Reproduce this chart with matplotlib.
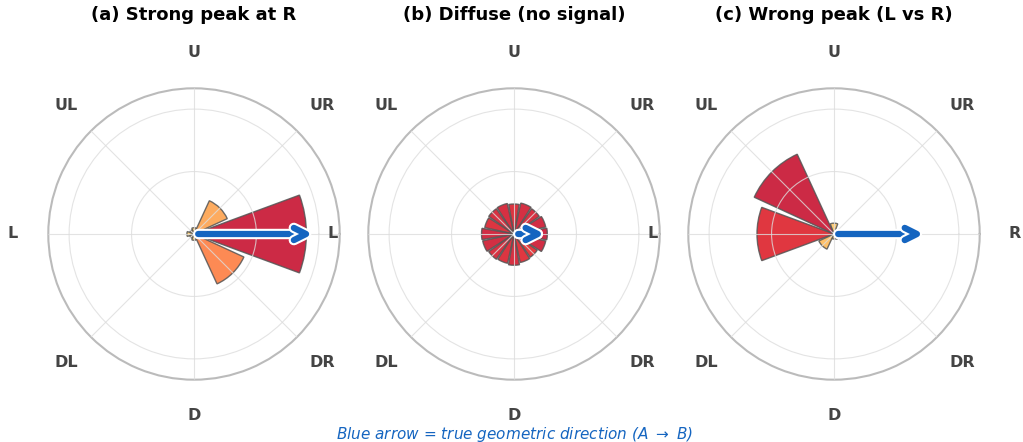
import numpy as np
import matplotlib
matplotlib.use('Agg')
import matplotlib.pyplot as plt
import matplotlib.patheffects as pe

# direction labels, counter-clockwise from right
dir_labels = ['R', 'UR', 'U', 'UL', 'L', 'DL', 'D', 'DR']
dir_angles = [0, 45, 90, 135, 180, 225, 270, 315]

titles = ['(a) Strong peak at R', '(b) Diffuse (no signal)', '(c) Wrong peak (L vs R)']

# panel a: 8 bins, peak at R
a_angles = [0, 45, 90, 135, 180, 225, 270, 315]
a_values = [0.270, 0.088, 0.015, 0.011, 0.017, 0.011, 0.015, 0.132]
# panel b: 16 bins, almost flat
b_angles = [0, 22.5, 45, 67.5, 90, 112.5, 135, 157.5, 180, 202.5, 225, 247.5, 270, 292.5, 315, 337.5]
b_values = [0.080, 0.078, 0.074, 0.076, 0.072, 0.075, 0.074, 0.072, 0.078, 0.077, 0.074, 0.072, 0.075, 0.070, 0.068, 0.078]
# panel c: 8 bins, peak on the left side
c_angles = [0, 45, 90, 135, 180, 225, 270, 315]
c_values = [0.010, 0.008, 0.026, 0.211, 0.185, 0.040, 0.012, 0.014]

arrow_len = [0.286, 0.074, 0.216]

panels = [(a_angles, a_values), (b_angles, b_values), (c_angles, c_values)]
centers = [194, 514, 834]

W, H = 1023, 442
fig = plt.figure(figsize=(W / 100, H / 100), dpi=100)
rad = 145.7
cmap = plt.cm.YlOrRd

for i, (ang, vals) in enumerate(panels):
    cx = centers[i] / W
    cy = 1 - 234 / H
    w = 2 * rad / W
    h = 2 * rad / H
    ax = fig.add_axes([cx - w / 2, cy - h / 2, w, h], projection='polar')
    ax.set_facecolor('white')
    ax.set_axisbelow(False)
    th = np.deg2rad(ang)
    width = 2 * np.pi / len(ang) * 0.9
    vals = np.array(vals)
    cols = cmap(0.25 + 0.6 * vals / vals.max())
    ax.bar(th, vals, width=width, color=cols, alpha=0.85,
           edgecolor='#555555', linewidth=1.0, zorder=1)
    ax.set_ylim(0, 0.35)
    ax.set_yticks([0.15, 0.30])
    ax.set_yticklabels([])
    ax.set_thetagrids(dir_angles, dir_labels, fontsize=11.5, fontweight='bold', color='#444444')
    ax.tick_params(axis='x', pad=15)
    ax.grid(color='#dddddd', linewidth=0.8, alpha=0.8)
    ax.spines['polar'].set_color('#bbbbbb')
    ax.spines['polar'].set_linewidth(1.5)
    ann = ax.annotate('', xy=(0, arrow_len[i]), xytext=(0, 0),
                      arrowprops=dict(arrowstyle='->', color='#1565c0', lw=4.5,
                                      mutation_scale=22, shrinkA=3, shrinkB=0),
                      zorder=6)
    ann.arrow_patch.set_path_effects([pe.Stroke(linewidth=7.5, foreground='white'), pe.Normal()])
    fig.text(cx, 1 - 15 / H, titles[i], ha='center', va='center',
             fontsize=13, fontweight='bold')

fig.text(514 / W, 1 - 434 / H, 'Blue arrow = true geometric direction (A $\\rightarrow$ B)',
         ha='center', va='center', fontsize=11, style='italic', color='#1565c0')

fig.savefig('out.png', dpi=100)
